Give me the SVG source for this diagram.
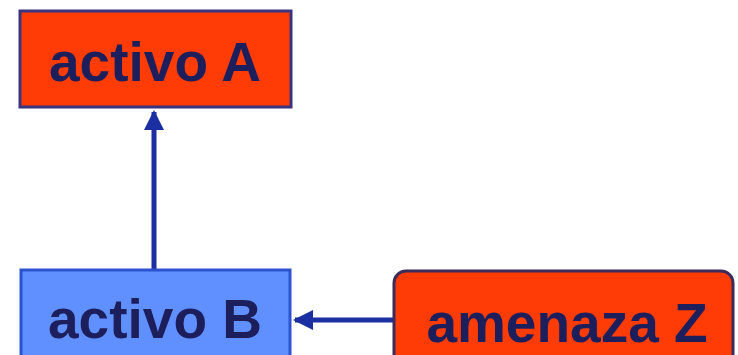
<svg xmlns="http://www.w3.org/2000/svg" width="738" height="355" viewBox="0 0 738 355">
<style>
.lbl{font-family:"Liberation Sans",Arial,sans-serif;font-weight:bold;font-size:55px;fill:#1d1f5c;text-anchor:middle}
.red{fill:#ff3c05;stroke:#3a3380;stroke-width:3}
.blue{fill:#6090ff;stroke:#2d52d0;stroke-width:3}
.conn{stroke:#1b2fa3;stroke-width:5;fill:none}
</style>
<defs>
<marker id="ah" viewBox="0 0 10 10" refX="9" refY="5" markerWidth="4" markerHeight="4" orient="auto" markerUnits="strokeWidth">
<path d="M0,0 L10,5 L0,10 z" fill="#1b2fa3"/>
</marker>
</defs>
<rect width="738" height="355" fill="#ffffff"/>
<g id="conns">
<line class="conn" x1="154" y1="270" x2="154" y2="112" marker-end="url(#ah)"/>
<line class="conn" x1="394" y1="320" x2="295" y2="320" marker-end="url(#ah)"/>
</g>
<g id="activoA">
<rect class="red" x="20" y="11" width="271" height="96"/>
<text class="lbl" x="155" y="81">activo A</text>
</g>
<g id="activoB">
<rect class="blue" x="21" y="270" width="269" height="100"/>
<text class="lbl" x="155" y="338">activo B</text>
</g>
<g id="amenazaZ">
<rect class="red" x="394" y="271" width="339" height="110" rx="12" ry="12" style="stroke:#3b2a5a"/>
<text class="lbl" x="567" y="342">amenaza Z</text>
</g>
</svg>
